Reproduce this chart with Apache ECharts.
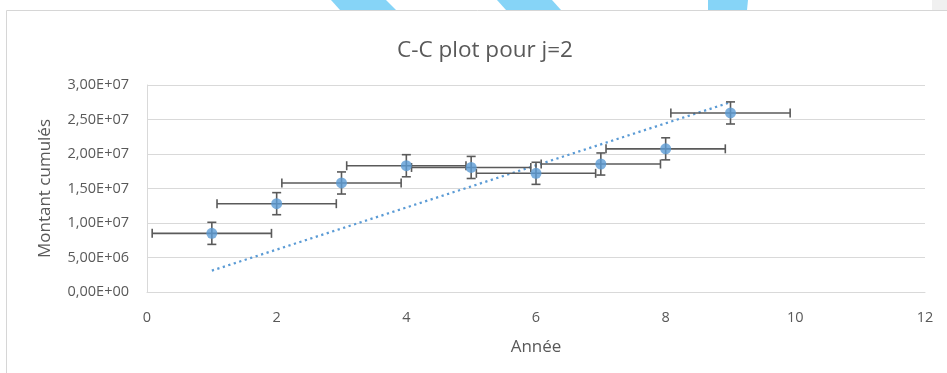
<!DOCTYPE html>
<html>
<head>
<meta charset="utf-8">
<script src="https://cdn.jsdelivr.net/npm/echarts@6/dist/echarts.min.js"></script>
<style>
  html, body { margin: 0; padding: 0; background: #ffffff; }
  #chart { width: 947px; height: 373px; }
</style>
</head>
<body>
<div id="chart"></div>
<script>
// Cumulative amounts per year, with error bars in both directions
const years = [1, 2, 3, 4, 5, 6, 7, 8, 9];
const cumulated = [8.5e6, 12.8e6, 15.8e6, 18.3e6, 18.05e6, 17.2e6, 18.55e6, 20.75e6, 25.95e6];
const xErrors = [0.92, 0.92, 0.92, 0.92, 0.92, 0.92, 0.92, 0.92, 0.92];
const yErrors = [1.6e6, 1.6e6, 1.6e6, 1.6e6, 1.6e6, 1.6e6, 1.6e6, 1.6e6, 1.6e6];

// Dotted reference line
const trendYears = [1, 9];
const trendValues = [3.1e6, 27.5e6];

const titleText = 'C-C plot pour j=2';
const xName = 'Année';
const yName = 'Montant cumulés';

const TEXT = '#595959';
const GRID = '#d9d9d9';
const BLUE = '#5b9bd5';
const BAR = '#5a5a5a';
const FONT = '"Open Sans", sans-serif';

function sci(v) {
  if (v === 0) return '0,00E+00';
  let e = Math.floor(Math.log10(Math.abs(v)) + 1e-9);
  let m = v / Math.pow(10, e);
  return m.toFixed(2).replace('.', ',') + 'E' + (e >= 0 ? '+' : '-') + String(Math.abs(e)).padStart(2, '0');
}

const points = years.map((x, i) => [x, cumulated[i]]);
const errData = years.map((x, i) => [x, cumulated[i], xErrors[i], yErrors[i]]);
const trendData = trendYears.map((x, i) => [x, trendValues[i]]);

const chart = echarts.init(document.getElementById('chart'), null, { renderer: 'canvas' });

chart.setOption({
  animation: false,
  backgroundColor: '#ffffff',
  title: {
    text: titleText,
    left: 480,
    top: 34,
    textAlign: 'center',
    textStyle: { color: TEXT, fontFamily: FONT, fontSize: 22.5, fontWeight: 'normal' }
  },
  graphic: [
    { type: 'polygon', shape: { points: [[331, 0], [386, 0], [396, 10], [340, 10]] }, style: { fill: '#86d4f7' }, silent: true },
    { type: 'polygon', shape: { points: [[497, 0], [552, 0], [561, 10], [506, 10]] }, style: { fill: '#86d4f7' }, silent: true },
    { type: 'polygon', shape: { points: [[708, 0], [748, 0], [747, 10], [708, 10]] }, style: { fill: '#86d4f7' }, silent: true },
    { type: 'rect', shape: { x: 932, y: 0, width: 15, height: 10 }, style: { fill: '#f0f0f0' }, silent: true },
    { type: 'rect', shape: { x: 6.5, y: 10.5, width: 1000, height: 400 }, style: { fill: 'none', stroke: '#d6d6d6', lineWidth: 1 }, silent: true }
  ],
  grid: { left: 147, right: 22, top: 85, bottom: 81, containLabel: false },
  xAxis: {
    type: 'value',
    min: 0, max: 12, interval: 2,
    name: xName,
    nameLocation: 'middle',
    nameGap: 47,
    nameTextStyle: { color: TEXT, fontFamily: FONT, fontSize: 17 },
    axisLine: { show: true, lineStyle: { color: GRID, width: 1 } },
    axisTick: { show: false },
    splitLine: { show: false },
    axisLabel: { color: TEXT, fontFamily: FONT, fontSize: 14.5, margin: 18 }
  },
  yAxis: {
    type: 'value',
    min: 0, max: 3e7, interval: 5e6,
    name: yName,
    nameLocation: 'middle',
    nameGap: 93,
    nameRotate: 90,
    nameTextStyle: { color: TEXT, fontFamily: FONT, fontSize: 17 },
    axisLine: { show: true, lineStyle: { color: GRID, width: 1 } },
    axisTick: { show: false },
    splitLine: { show: true, lineStyle: { color: GRID, width: 1 } },
    axisLabel: { color: TEXT, fontFamily: FONT, fontSize: 14.5, margin: 18, formatter: sci }
  },
  series: [
    {
      type: 'line',
      data: trendData,
      showSymbol: false,
      symbol: 'none',
      lineStyle: { color: BLUE, width: 2.25, type: [2.25, 3.5] },
      z: 2
    },
    {
      type: 'custom',
      data: errData,
      encode: { x: 0, y: 1 },
      z: 3,
      renderItem: function (params, api) {
        const x = api.value(0), y = api.value(1), dx = api.value(2), dy = api.value(3);
        const l = api.coord([x - dx, y]);
        const r = api.coord([x + dx, y]);
        const t = api.coord([x, y + dy]);
        const b = api.coord([x, y - dy]);
        const cap = 4.5;
        const style = { stroke: BAR, lineWidth: 1.6 };
        const seg = (x1, y1, x2, y2) => ({ type: 'line', shape: { x1, y1, x2, y2 }, style });
        return {
          type: 'group',
          children: [
            seg(l[0], l[1], r[0], r[1]),
            seg(l[0], l[1] - cap, l[0], l[1] + cap),
            seg(r[0], r[1] - cap, r[0], r[1] + cap),
            seg(t[0], t[1], b[0], b[1]),
            seg(t[0] - cap, t[1], t[0] + cap, t[1]),
            seg(b[0] - cap, b[1], b[0] + cap, b[1])
          ]
        };
      }
    },
    {
      type: 'scatter',
      data: points,
      symbol: 'circle',
      symbolSize: 11,
      itemStyle: { color: BLUE },
      z: 4
    }
  ]
});
</script>
</body>
</html>
